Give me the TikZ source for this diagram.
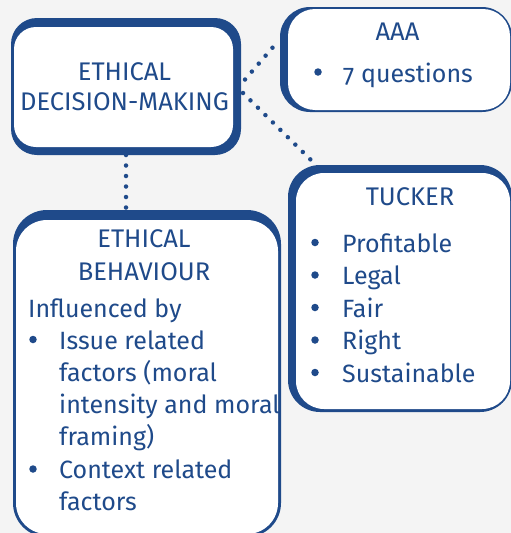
\documentclass[tikz,border=0pt]{standalone}
\usepackage{fontspec}
\setmainfont{Fira Sans}
\definecolor{bblue}{RGB}{31,74,138}
\definecolor{bgcol}{RGB}{244,244,244}
\begin{document}
\begin{tikzpicture}[x=1pt,y=-1pt,
  txt/.style={text=bblue,font=\fontsize{25}{29}\selectfont,inner sep=0pt},
  ttl/.style={text=bblue,font=\fontsize{25.5}{29}\selectfont,inner sep=0pt},
  bul/.style={circle,fill=bblue,inner sep=0pt,minimum size=7.5pt},
  area/.style={inner sep=0pt,outer sep=0pt},
  dotline/.style={draw=bblue,line width=4.5pt,line cap=round,dash pattern=on 0pt off 10.5pt}]
\fill[bgcol] (0,0) rectangle (511,533);
\useasboundingbox (0,0) rectangle (511,533);
\clip (0,0) rectangle (511,533);
% box areas
\node[area,minimum width=230pt,minimum height=137pt] (dm) at (126,86.5) {};
\node[area,minimum width=232pt,minimum height=105pt] (aaa) at (396,59.5) {};
\node[area,minimum width=224pt,minimum height=247pt] (tk) at (400,288.5) {};
\node[area,minimum width=268pt,minimum height=327pt] (beh) at (147,373.5) {};
% connectors
\draw[dotline] (dm.south) -- (dm.south |- beh.north);
\draw[dotline] ([xshift=4pt,yshift=7pt]dm.east) -- ([xshift=-3pt,yshift=17pt]aaa.west);
\draw[dotline] ([xshift=2pt,yshift=-6.5pt]dm.east) -- ([xshift=28pt]tk.north west);
% box borders
\fill[bblue,rounded corners=26pt] (dm.north west) rectangle (dm.south east);
\fill[white,rounded corners=22pt] ([xshift=3pt,yshift=-9pt]dm.north west) rectangle ([xshift=-8pt,yshift=8pt]dm.south east);
\fill[bblue,rounded corners=30pt] (aaa.north west) rectangle (aaa.south east);
\fill[white,rounded corners=27pt] ([xshift=8pt,yshift=-2pt]aaa.north west) rectangle ([xshift=-2pt,yshift=2pt]aaa.south east);
\fill[bblue,rounded corners=32pt] (tk.north west) rectangle (tk.south east);
\fill[white,rounded corners=28pt] ([xshift=8pt,yshift=-8pt]tk.north west) rectangle ([xshift=-2pt,yshift=3pt]tk.south east);
\fill[bblue,rounded corners=34pt] (beh.north west) rectangle (beh.south east);
\fill[white,rounded corners=31pt] ([xshift=3pt,yshift=-10pt]beh.north west) rectangle ([xshift=-3pt,yshift=3pt]beh.south east);
% texts: decision-making
\node[ttl,anchor=base] (dmA) at (124.5,80) {ETHICAL};
\node[ttl,anchor=base] (dmB) at (124.5,110) {DECISION-MAKING};
% AAA
\node[ttl,anchor=base] (aaaT) at (397.5,40) {AAA};
\node[bul] (aaaB) at (318,72) {};
\node[txt,anchor=base west] (aaaL) at (343,82) {\addfontfeature{Numbers=OldStyle}7 questions};
% Tucker
\node[ttl,anchor=base] (tkT) at (410,205) {TUCKER};
\node[bul] (tkB1) at (315,242.5) {};
\node[txt,anchor=base west] (tkL1) at (342,252) {Profitable};
\node[bul] (tkB2) at (315,275) {};
\node[txt,anchor=base west] (tkL2) at (342,284.5) {Legal};
\node[bul] (tkB3) at (315,307.5) {};
\node[txt,anchor=base west] (tkL3) at (342,317) {Fair};
\node[bul] (tkB4) at (315,340) {};
\node[txt,anchor=base west] (tkL4) at (342,349.5) {Right};
\node[bul] (tkB5) at (315,372.5) {};
\node[txt,anchor=base west] (tkL5) at (342,382) {Sustainable};
% Behaviour
\node[ttl,anchor=base] (behA) at (144,247) {ETHICAL};
\node[ttl,anchor=base] (behB) at (144,280) {BEHAVIOUR};
\node[txt,anchor=base west] (behI) at (28,317) {Influenced by};
\node[bul] (behB1) at (33,339.5) {};
\node[txt,anchor=base west] (behL1) at (59,349) {Issue related};
\node[txt,anchor=base west] (behL2) at (59,381) {factors (moral};
\node[txt,anchor=base west] (behL3) at (59,413) {intensity and moral};
\node[txt,anchor=base west] (behL4) at (59,445) {framing)};
\node[bul] (behB2) at (33,469) {};
\node[txt,anchor=base west] (behL5) at (59,478.5) {Context related};
\node[txt,anchor=base west] (behL6) at (59,510) {factors};
\end{tikzpicture}
\end{document}
